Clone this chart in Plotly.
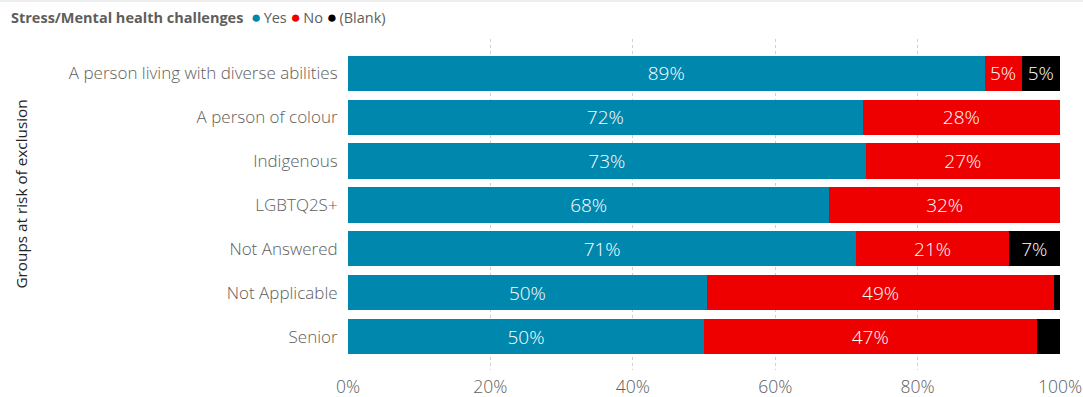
import plotly.graph_objects as go

# Survey groups, top to bottom
groups = [
    "A person living with diverse abilities",
    "A person of colour",
    "Indigenous",
    "LGBTQ2S+",
    "Not Answered",
    "Not Applicable",
    "Senior",
]

# Share of responses (%) per answer
yes_pct = [89.4, 72.3, 72.7, 67.6, 71.4, 50.4, 50.0]
no_pct = [5.2, 27.7, 27.3, 32.4, 21.4, 48.8, 46.7]
blank_pct = [5.4, 0.0, 0.0, 0.0, 7.2, 0.8, 3.3]

x_ticks = [0, 20, 40, 60, 80, 100]
x_tick_labels = ["0%", "20%", "40%", "60%", "80%", "100%"]

series = [
    ("Yes", yes_pct, "#0087AE"),
    ("No", no_pct, "#EE0000"),
    ("(Blank)", blank_pct, "#000000"),
]

FONT = "Open Sans, Noto Sans, sans-serif"
LABEL_GREY = "#605E5C"


def bar_text(values):
    # segments too narrow for a label stay unlabelled
    return [f"{v:.0f}%" if v >= 4 else "" for v in values]


fig = go.Figure()
for name, vals, color in series:
    fig.add_trace(go.Bar(
        name=name,
        y=groups,
        x=vals,
        orientation="h",
        marker=dict(color=color, line=dict(width=0)),
        text=bar_text(vals),
        textposition="inside",
        insidetextanchor="middle",
        textfont=dict(family=FONT, size=19, color="white", weight=300),
        showlegend=False,
        hoverinfo="skip",
    ))

# Legend header drawn as a single line of rich text
legend_parts = ["<b>Stress/Mental health challenges</b> "]
for name, _, color in series:
    legend_parts.append(
        f" <span style='color:{color};font-size:17px'>●</span>"
        f"<span style='color:{LABEL_GREY}'>\u2009{name}</span>"
    )
legend_text = "".join(legend_parts)

fig.update_layout(
    width=1083,
    height=397,
    barmode="stack",
    bargap=0.2,
    plot_bgcolor="white",
    paper_bgcolor="white",
    margin=dict(l=348, r=23, t=39, b=27),
    font=dict(family=FONT, color=LABEL_GREY),
    xaxis=dict(
        range=[0, 100],
        tickvals=x_ticks,
        ticktext=x_tick_labels,
        tickfont=dict(size=17.5, color=LABEL_GREY, weight=300),
        ticklabelstandoff=4,
        showgrid=True,
        gridcolor="#D0D0D0",
        griddash="dot",
        gridwidth=1,
        zeroline=False,
        showline=False,
        automargin=False,
        fixedrange=True,
    ),
    yaxis=dict(
        categoryorder="array",
        categoryarray=groups,
        range=[6.76, -0.78],
        tickfont=dict(size=17, color=LABEL_GREY, weight=300),
        ticks="outside",
        ticklen=6,
        tickcolor="rgba(0,0,0,0)",
        showgrid=False,
        zeroline=False,
        showline=False,
        automargin=False,
        fixedrange=True,
    ),
    shapes=[
        # thin frame line along the top of the visual
        dict(
            type="line", xref="paper", yref="paper",
            x0=-348 / 712, x1=1 + 23 / 712,
            y0=1 + 38 / 331, y1=1 + 38 / 331,
            line=dict(color="#E8E8E8", width=1.5),
        ),
    ],
    annotations=[
        dict(
            text=legend_text,
            xref="paper", yref="paper",
            x=-(348 - 9) / 712, y=1 + (39 - 17) / 331,
            xanchor="left", yanchor="middle",
            showarrow=False,
            font=dict(family=FONT, size=14.5, color=LABEL_GREY),
        ),
        dict(
            text="Groups at risk of exclusion",
            xref="paper", yref="paper",
            x=-(348 - 20) / 712, y=0.5 + 10 / 331,
            xanchor="center", yanchor="middle",
            textangle=-90,
            showarrow=False,
            font=dict(family=FONT, size=15.3, color="#252423"),
        ),
    ],
)

fig.write_html("out.html")
